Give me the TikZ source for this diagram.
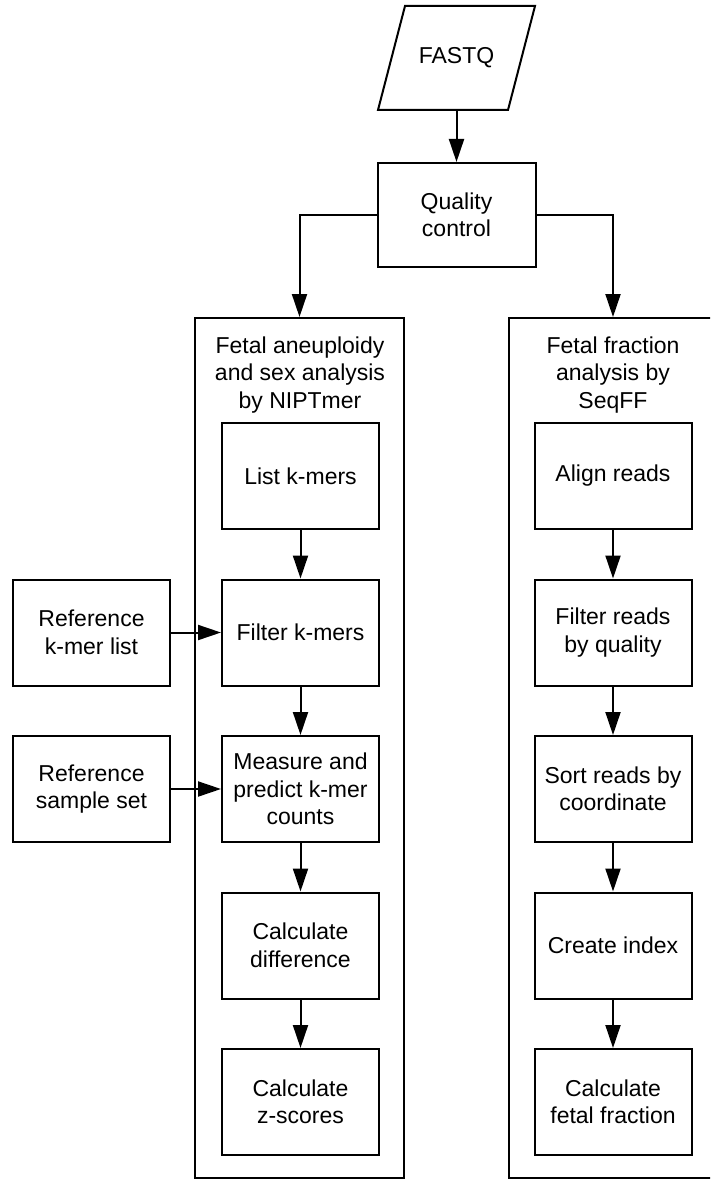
\documentclass[tikz,border=0pt]{standalone}
\usepackage{fontspec}
\setmainfont{Liberation Sans}
\usetikzlibrary{arrows.meta}
\begin{document}
\begin{tikzpicture}[x=1pt,y=-1pt,
  every node/.style={font=\fontsize{23}{27.5}\selectfont},
  box/.style={draw,line width=2pt,rectangle,inner sep=0pt,minimum width=157pt,minimum height=106pt,align=center},
  container/.style={draw,line width=2pt,rectangle,inner sep=0pt,minimum width=209pt,minimum height=860pt},
  title/.style={align=center,inner sep=0pt},
  arr/.style={line width=2pt,-{Triangle[length=23pt,width=15pt]}}
]
\clip (0,0) rectangle (710,1180);
\useasboundingbox (0,0) rectangle (710,1180);
\fill[white] (0,0) rectangle (710,1180);

% FASTQ parallelogram
\draw[line width=2pt] (405,6) -- (535,6) -- (508,110) -- (378,110) -- cycle;
\node[inner sep=0pt,minimum width=130pt,minimum height=104pt] (fastq) at (456.5,58) {FASTQ};

\node[box,minimum width=158pt,minimum height=104pt] (qc) at (456.5,215) {Quality\\control};

% containers
\node[container] (lc) at (299.5,748) {};
\node[container] (rc) at (613,748) {};
\node[title] (lt) at (300,375) {Fetal aneuploidy\\and sex analysis\\by NIPTmer};
\node[title] (rt) at (613,375) {Fetal fraction\\analysis by\\SeqFF};

% left column
\node[box] (l1) at (300.5,476) {List k-mers};
\node[box] (l2) at (300.5,632.5) {Filter k-mers};
\node[box] (l3) at (300.5,789) {Measure and\\predict k-mer\\counts};
\node[box] (l4) at (300.5,945.5) {Calculate\\difference};
\node[box] (l5) at (300.5,1102) {Calculate\\z-scores};

% right column
\node[box] (r1) at (613,476) {Align reads};
\node[box] (r2) at (613,632.5) {Filter reads\\by quality};
\node[box] (r3) at (613,789) {Sort reads by\\coordinate};
\node[box] (r4) at (613,945.5) {Create index};
\node[box] (r5) at (613,1102) {Calculate\\fetal fraction};

% reference boxes
\node[box] (rk) at (91.5,632.5) {Reference\\k-mer list};
\node[box] (rs) at (91.5,789) {Reference\\sample set};

% connectors
\draw[arr] (fastq.south) -- (qc.north);
\draw[arr] (qc.west) -| (lc.north);
\draw[arr] (qc.east) -| (rc.north);
\draw[arr] (l1) -- (l2);
\draw[arr] (l2) -- (l3);
\draw[arr] (l3) -- (l4);
\draw[arr] (l4) -- (l5);
\draw[arr] (r1) -- (r2);
\draw[arr] (r2) -- (r3);
\draw[arr] (r3) -- (r4);
\draw[arr] (r4) -- (r5);
\draw[arr] (rk) -- (l2);
\draw[arr] (rs) -- (l3);
\end{tikzpicture}
\end{document}
